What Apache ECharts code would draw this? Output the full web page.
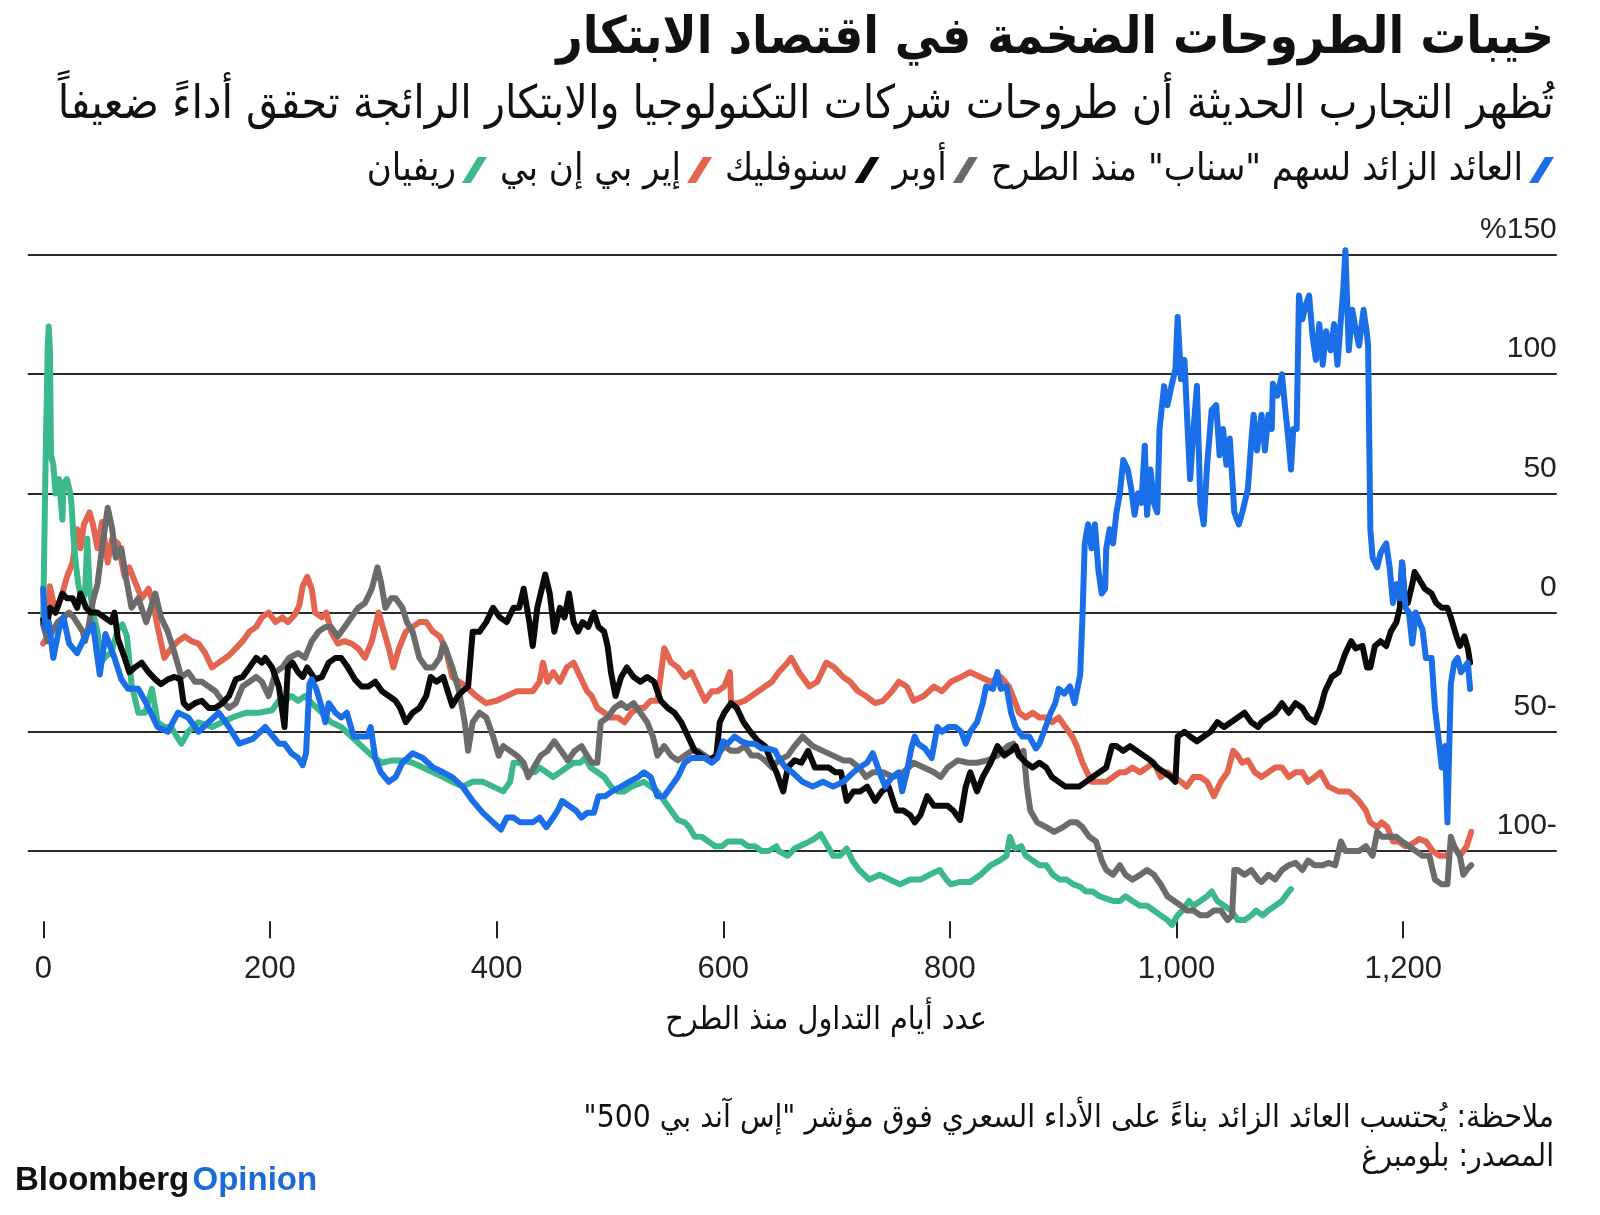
<!DOCTYPE html>
<html><head><meta charset="utf-8">
<script src="https://cdn.jsdelivr.net/npm/echarts@6/dist/echarts.min.js"></script>
<style>html,body{margin:0;padding:0;background:#fff}#c{width:1600px;height:1215px}</style>
</head><body><div id="c"></div>
<script>
// ---------- DATA ----------
const seriesNames = ['العائد الزائد لسهم "سناب" منذ الطرح', 'أوبر', 'سنوفليك', 'إير بي إن بي', 'ريفيان'];
const seriesColors = ['#1a6fe8', '#6b6b6b', '#0a0a0a', '#e3654f', '#3cb988'];
const xTicks = [0, 200, 400, 600, 800, 1000, 1200];
const yTicks = [150, 100, 50, 0, -50, -100];
const yTickLabels = ['%150', '100', '50', '0', '50-', '100-'];

const snapData = [[0,10],[2,-7],[5,-4],[9,-19],[14,-7],[18,-2],[23,-13],[30,-17],[36,-11],[44,-5],[50,-26],[55,-9],[63,-19],[69,-28],[75,-32],[84,-32],[91,-38],[101,-48],[110,-50],[119,-42],[128,-44],[137,-50],[146,-46],[155,-42],[164,-48],[173,-55],[185,-53],[196,-48],[208,-55],[213,-55],[219,-59],[225,-61],[229,-64],[232,-59],[235,-30],[237,-28],[241,-32],[246,-40],[249,-46],[252,-38],[258,-42],[263,-44],[268,-42],[274,-52],[280,-52],[286,-52],[289,-48],[293,-61],[298,-67],[305,-71],[311,-69],[317,-63],[326,-59],[335,-61],[344,-65],[353,-67],[361,-69],[370,-73],[379,-79],[388,-84],[397,-88],[404,-91],[409,-86],[415,-86],[421,-88],[426,-88],[432,-88],[438,-86],[444,-90],[450,-86],[454,-83],[458,-79],[464,-81],[470,-83],[475,-86],[480,-84],[486,-84],[490,-77],[496,-77],[502,-75],[510,-73],[517,-71],[525,-69],[530,-67],[536,-69],[542,-77],[548,-77],[554,-73],[560,-69],[566,-63],[572,-61],[578,-61],[584,-61],[590,-63],[595,-61],[600,-54],[604,-55],[610,-52],[616,-54],[622,-55],[628,-55],[634,-57],[640,-57],[646,-58],[649,-61],[655,-65],[661,-67],[670,-71],[679,-73],[688,-71],[697,-73],[706,-71],[715,-67],[720,-65],[727,-63],[732,-59],[738,-67],[743,-73],[749,-69],[755,-67],[758,-75],[762,-67],[766,-57],[769,-52],[772,-55],[778,-57],[784,-61],[789,-48],[793,-50],[799,-48],[805,-48],[810,-50],[814,-55],[818,-50],[824,-46],[829,-38],[832,-31],[838,-32],[842,-25],[845,-32],[850,-31],[854,-42],[858,-48],[864,-52],[870,-52],[876,-57],[879,-55],[883,-50],[889,-42],[893,-38],[896,-32],[901,-34],[906,-31],[910,-38],[915,-26],[917,-2],[919,29],[922,37],[925,27],[928,37],[931,18],[934,8],[937,10],[938,27],[941,35],[944,29],[947,42],[950,50],[953,64],[957,60],[960,52],[963,41],[966,50],[969,46],[972,70],[974,41],[977,60],[980,46],[983,42],[985,77],[989,95],[992,87],[996,96],[999,102],[1001,124],[1004,98],[1007,106],[1010,75],[1012,56],[1015,77],[1018,95],[1021,46],[1024,37],[1027,62],[1031,85],[1035,87],[1038,66],[1041,77],[1044,62],[1047,73],[1051,42],[1055,37],[1058,42],[1063,52],[1066,72],[1068,83],[1071,68],[1075,83],[1078,68],[1081,83],[1084,77],[1085,96],[1089,91],[1093,100],[1096,85],[1099,71],[1101,60],[1103,77],[1106,77],[1108,133],[1111,123],[1114,129],[1117,133],[1120,116],[1123,106],[1126,121],[1129,104],[1132,118],[1136,110],[1139,121],[1142,104],[1145,123],[1147,135],[1149,152],[1152,110],[1155,127],[1158,119],[1161,112],[1165,127],[1168,117],[1169,112],[1171,35],[1173,23],[1177,19],[1180,25],[1185,29],[1188,19],[1191,4],[1194,12],[1197,6],[1199,21],[1202,2],[1205,0],[1208,-13],[1211,0],[1214,-4],[1217,-7],[1220,-19],[1225,-19],[1228,-40],[1231,-52],[1234,-65],[1237,-56],[1239,-88],[1242,-30],[1245,-21],[1248,-19],[1251,-25],[1254,-23],[1257,-21],[1259,-32]];

const uberData = [[0,-5],[4,-12],[8,-8],[13,-4],[18,-2],[23,0],[27,-2],[31,-5],[35,-8],[37,-12],[40,-6],[44,5],[48,12],[52,27],[57,44],[61,35],[64,23],[69,27],[73,15],[78,2],[84,6],[91,-4],[99,8],[104,-2],[110,-8],[116,-17],[122,-27],[128,-25],[134,-29],[140,-29],[146,-31],[152,-33],[158,-37],[164,-40],[170,-38],[176,-31],[182,-29],[188,-27],[193,-29],[199,-35],[205,-25],[211,-23],[217,-19],[225,-17],[231,-19],[237,-12],[243,-8],[249,-6],[254,-6],[260,-10],[266,-6],[272,-2],[278,2],[284,4],[290,10],[295,19],[298,13],[302,2],[307,6],[311,6],[317,2],[321,-4],[326,-8],[332,-19],[338,-23],[344,-23],[350,-19],[353,-13],[355,-15],[361,-23],[367,-33],[372,-46],[375,-58],[379,-46],[385,-42],[391,-44],[397,-52],[402,-60],[406,-56],[412,-58],[418,-60],[424,-63],[428,-69],[433,-65],[439,-60],[445,-58],[451,-54],[457,-58],[463,-62],[469,-58],[475,-56],[480,-60],[484,-63],[489,-63],[492,-46],[498,-44],[504,-40],[510,-38],[515,-40],[521,-38],[527,-42],[533,-46],[538,-52],[542,-60],[548,-56],[554,-60],[560,-62],[566,-60],[572,-58],[578,-58],[584,-60],[590,-62],[595,-60],[601,-56],[607,-58],[613,-58],[619,-56],[625,-60],[631,-60],[637,-62],[643,-65],[649,-62],[657,-60],[663,-56],[670,-52],[679,-56],[688,-58],[697,-60],[706,-62],[712,-62],[720,-65],[726,-69],[732,-67],[741,-67],[750,-69],[759,-67],[768,-63],[777,-65],[786,-67],[792,-69],[798,-65],[807,-62],[816,-63],[824,-63],[833,-62],[842,-60],[851,-56],[856,-55],[861,-60],[865,-58],[868,-73],[871,-83],[877,-88],[885,-90],[892,-92],[900,-90],[906,-88],[912,-88],[917,-90],[923,-94],[929,-96],[934,-104],[938,-108],[944,-110],[950,-106],[955,-110],[961,-112],[968,-110],[974,-108],[980,-110],[986,-114],[992,-119],[998,-121],[1004,-123],[1009,-125],[1015,-125],[1021,-127],[1027,-127],[1033,-125],[1039,-125],[1045,-129],[1049,-127],[1051,-108],[1054,-108],[1060,-110],[1066,-108],[1072,-112],[1075,-113],[1081,-110],[1087,-112],[1093,-108],[1099,-106],[1105,-105],[1111,-108],[1116,-104],[1122,-106],[1129,-106],[1134,-105],[1140,-106],[1145,-96],[1149,-100],[1155,-100],[1161,-100],[1167,-98],[1173,-102],[1177,-92],[1181,-94],[1188,-94],[1194,-94],[1199,-96],[1205,-98],[1211,-100],[1217,-102],[1223,-102],[1228,-112],[1234,-114],[1239,-114],[1242,-94],[1245,-98],[1250,-102],[1253,-110],[1256,-108],[1260,-106]];

const snowflakeData = [[0,-3],[3,-7],[6,2],[11,0],[17,8],[21,6],[26,6],[30,2],[33,8],[38,2],[42,0],[48,0],[54,-2],[60,-4],[63,0],[66,-11],[72,-19],[76,-25],[81,-23],[87,-21],[93,-25],[99,-28],[104,-30],[110,-28],[116,-27],[121,-28],[124,-38],[128,-40],[134,-38],[140,-37],[146,-40],[152,-40],[158,-38],[164,-35],[170,-28],[176,-27],[182,-23],[188,-19],[193,-21],[196,-19],[202,-23],[208,-31],[213,-48],[216,-23],[220,-21],[225,-25],[229,-27],[233,-23],[240,-28],[246,-27],[252,-21],[258,-19],[263,-19],[269,-23],[275,-28],[281,-31],[287,-31],[293,-29],[299,-33],[305,-35],[311,-37],[315,-40],[320,-46],[326,-42],[332,-40],[338,-35],[342,-27],[347,-29],[353,-27],[357,-33],[361,-39],[366,-35],[370,-33],[375,-31],[379,-8],[385,-8],[391,-4],[397,2],[403,-2],[409,-4],[415,2],[420,2],[424,10],[429,-4],[432,-14],[436,2],[439,8],[443,16],[447,8],[451,-8],[456,2],[460,-2],[464,8],[468,-4],[472,-8],[476,-4],[481,-6],[486,0],[490,-6],[495,-8],[498,-14],[501,-25],[505,-35],[510,-27],[515,-23],[521,-27],[527,-29],[533,-27],[539,-29],[545,-37],[551,-40],[557,-42],[563,-46],[569,-52],[575,-58],[581,-60],[587,-62],[594,-60],[597,-46],[601,-42],[607,-38],[612,-40],[618,-46],[624,-50],[631,-54],[637,-56],[643,-63],[647,-67],[653,-75],[657,-65],[663,-62],[669,-63],[675,-58],[681,-65],[687,-65],[693,-65],[699,-67],[704,-67],[709,-79],[715,-75],[721,-75],[727,-73],[734,-79],[740,-75],[746,-73],[750,-79],[753,-83],[759,-83],[765,-85],[769,-88],[774,-85],[780,-77],[786,-81],[792,-81],[798,-81],[803,-83],[809,-87],[814,-73],[818,-67],[824,-75],[829,-69],[836,-63],[842,-56],[848,-60],[854,-58],[858,-56],[861,-60],[867,-63],[873,-65],[879,-63],[885,-65],[890,-69],[896,-71],[902,-73],[908,-73],[914,-73],[920,-71],[926,-69],[932,-67],[938,-65],[943,-56],[947,-56],[953,-58],[959,-56],[965,-58],[971,-60],[977,-62],[983,-65],[989,-67],[995,-69],[999,-71],[1001,-52],[1007,-50],[1012,-52],[1018,-54],[1024,-52],[1030,-50],[1036,-46],[1042,-48],[1048,-46],[1054,-44],[1060,-42],[1066,-46],[1072,-48],[1075,-46],[1081,-44],[1087,-42],[1093,-38],[1099,-42],[1105,-38],[1111,-40],[1116,-44],[1122,-46],[1127,-40],[1131,-33],[1137,-27],[1143,-25],[1149,-17],[1154,-12],[1158,-15],[1164,-14],[1168,-23],[1171,-23],[1175,-14],[1180,-12],[1185,-14],[1189,-8],[1194,-4],[1197,2],[1199,21],[1201,8],[1204,4],[1208,12],[1210,17],[1214,14],[1219,10],[1225,8],[1229,4],[1234,2],[1239,2],[1242,-2],[1247,-10],[1250,-14],[1254,-10],[1257,-15],[1259,-21]];

const airbnbData = [[0,-13],[3,-11],[6,11],[11,0],[17,8],[21,15],[26,21],[30,35],[33,27],[36,37],[41,42],[44,37],[48,27],[52,38],[57,21],[61,31],[66,29],[72,15],[76,19],[81,13],[87,6],[93,10],[97,4],[101,-6],[107,-19],[113,-15],[119,-12],[125,-10],[131,-12],[137,-13],[143,-17],[149,-23],[155,-21],[164,-18],[170,-15],[176,-12],[182,-8],[188,-6],[193,-2],[199,0],[205,-4],[211,-2],[216,-4],[222,-1],[226,3],[229,11],[233,15],[237,10],[240,0],[246,-2],[250,0],[254,-8],[260,-13],[266,-12],[272,-13],[278,-15],[284,-19],[290,-12],[296,0],[302,-10],[305,-15],[309,-23],[314,-15],[320,-8],[326,-6],[332,-4],[338,-4],[344,-8],[350,-10],[355,-15],[361,-27],[367,-29],[373,-31],[382,-35],[391,-38],[400,-37],[409,-35],[418,-33],[427,-33],[432,-33],[438,-29],[441,-21],[445,-29],[450,-25],[456,-29],[462,-23],[468,-21],[474,-27],[480,-33],[484,-35],[489,-40],[495,-42],[501,-44],[507,-44],[513,-46],[519,-42],[525,-40],[530,-40],[536,-37],[542,-37],[548,-15],[554,-21],[560,-23],[566,-27],[572,-25],[578,-31],[584,-37],[590,-33],[595,-33],[601,-31],[606,-25],[607,-38],[613,-38],[619,-37],[625,-35],[631,-33],[637,-31],[643,-29],[649,-25],[655,-22],[660,-19],[667,-25],[676,-31],[683,-29],[691,-21],[698,-23],[706,-27],[712,-29],[719,-33],[726,-35],[734,-38],[741,-37],[749,-33],[755,-29],[762,-31],[768,-37],[777,-35],[786,-31],[793,-33],[801,-29],[810,-27],[818,-25],[827,-27],[836,-29],[845,-27],[852,-31],[858,-38],[861,-42],[867,-44],[873,-42],[879,-44],[885,-44],[890,-46],[896,-44],[902,-48],[908,-52],[912,-56],[917,-63],[921,-67],[925,-71],[931,-71],[938,-71],[944,-69],[950,-67],[955,-67],[961,-65],[968,-67],[974,-65],[980,-63],[986,-69],[992,-67],[998,-69],[1004,-71],[1009,-73],[1015,-69],[1021,-69],[1027,-71],[1033,-77],[1039,-71],[1045,-67],[1050,-58],[1054,-60],[1058,-63],[1063,-62],[1069,-67],[1075,-69],[1081,-67],[1087,-65],[1093,-65],[1099,-69],[1105,-67],[1111,-67],[1116,-71],[1122,-69],[1127,-67],[1134,-73],[1143,-75],[1152,-75],[1161,-79],[1167,-83],[1171,-88],[1177,-90],[1181,-88],[1186,-90],[1191,-96],[1196,-96],[1202,-98],[1208,-97],[1214,-95],[1220,-96],[1226,-100],[1232,-102],[1238,-102],[1244,-98],[1250,-102],[1256,-98],[1260,-92]];

const rivianData = [[0,-5],[2,58],[4,110],[5,120],[6,110],[7,66],[9,62],[11,50],[14,56],[17,39],[18,54],[21,56],[24,50],[25,46],[27,30],[29,20],[31,12],[34,5],[37,8],[39,31],[41,10],[44,0],[48,-8],[51,-21],[56,-18],[60,-17],[66,-7],[70,-5],[74,-10],[78,-30],[84,-42],[90,-42],[96,-32],[101,-46],[107,-48],[113,-48],[118,-52],[122,-55],[128,-50],[137,-46],[149,-48],[158,-46],[167,-44],[179,-42],[190,-42],[202,-41],[208,-37],[213,-37],[219,-35],[225,-37],[231,-35],[237,-38],[246,-42],[254,-46],[263,-48],[272,-52],[281,-56],[290,-60],[299,-63],[308,-62],[317,-62],[326,-63],[335,-65],[344,-67],[353,-69],[361,-71],[370,-73],[379,-71],[388,-71],[397,-73],[406,-75],[412,-71],[415,-63],[421,-63],[428,-67],[434,-67],[438,-65],[444,-67],[450,-69],[456,-67],[462,-65],[468,-63],[474,-63],[478,-61],[483,-65],[489,-67],[495,-69],[501,-73],[507,-75],[513,-75],[519,-73],[525,-72],[530,-71],[536,-73],[542,-75],[548,-79],[554,-83],[560,-87],[566,-88],[570,-90],[575,-94],[581,-94],[587,-96],[593,-98],[599,-98],[604,-96],[610,-96],[616,-96],[622,-98],[628,-98],[634,-100],[640,-100],[647,-98],[649,-100],[657,-102],[663,-99],[672,-97],[680,-95],[686,-93],[691,-97],[697,-102],[703,-102],[709,-99],[714,-104],[720,-108],[729,-112],[738,-110],[747,-112],[756,-114],[765,-112],[774,-112],[782,-110],[791,-108],[797,-112],[801,-114],[809,-113],[818,-113],[827,-110],[836,-106],[844,-104],[850,-102],[853,-94],[856,-98],[858,-99],[863,-98],[867,-102],[873,-104],[879,-106],[885,-106],[891,-110],[897,-112],[903,-112],[909,-114],[915,-115],[920,-117],[926,-117],[932,-119],[938,-120],[944,-121],[950,-121],[955,-119],[961,-121],[968,-123],[974,-123],[980,-125],[986,-127],[992,-129],[996,-131],[1001,-127],[1005,-125],[1011,-121],[1015,-123],[1021,-121],[1027,-119],[1031,-117],[1036,-121],[1042,-123],[1048,-125],[1054,-129],[1060,-129],[1066,-127],[1070,-125],[1076,-127],[1081,-125],[1087,-123],[1093,-121],[1099,-117],[1101,-116]];

const titleText = 'خيبات الطروحات الضخمة في اقتصاد الابتكار';
const subtitleText = 'تُظهر التجارب الحديثة أن طروحات شركات التكنولوجيا والابتكار الرائجة تحقق أداءً ضعيفاً';
const xAxisTitle = 'عدد أيام التداول منذ الطرح';
const noteText = 'ملاحظة: يُحتسب العائد الزائد بناءً على الأداء السعري فوق مؤشر "إس آند بي 500"\u200F';
const sourceText = 'المصدر: بلومبرغ';

// ---------- CHART ----------
const ARB = '"DejaVu Sans Condensed", "DejaVu Sans", sans-serif';
const NUM = '"Liberation Sans", Arial, sans-serif';
const allData = [snapData, uberData, snowflakeData, airbnbData, rivianData];
const drawOrder = [3, 4, 1, 2, 0]; // airbnb, rivian, uber, snowflake, snap on top

const chart = echarts.init(document.getElementById('c'), null, {renderer: 'canvas'});
const fmtNum = v => String(v).replace(/\B(?=(\d{3})+(?!\d))/g, ',');

// text measuring for the right-to-left legend
const mctx = document.createElement('canvas').getContext('2d');
function textW(t, font) { mctx.font = font; return mctx.measureText(t).width; }

const legendFont = '38px ' + ARB;
const legendY = 170;
const legendGraphics = [];
let lx = 1554;
[0, 1, 2, 3, 4].forEach(i => {
  legendGraphics.push({type: 'polygon',
    shape: {points: [[lx - 9, legendY - 13], [lx, legendY - 13], [lx - 16, legendY + 13], [lx - 25, legendY + 13]]},
    style: {fill: seriesColors[i]}});
  const tx = lx - 25 - 6;
  legendGraphics.push({type: 'text', x: tx, y: legendY,
    style: {text: seriesNames[i], font: legendFont, fill: '#111', align: 'right', verticalAlign: 'middle'}});
  lx = tx - textW(seriesNames[i], legendFont) - 13;
});

const series = drawOrder.map(i => ({
  name: seriesNames[i],
  type: 'line',
  xAxisIndex: 0, yAxisIndex: 0,
  data: allData[i],
  showSymbol: false,
  symbol: 'none',
  clip: false,
  color: seriesColors[i],
  lineStyle: {width: 6, color: seriesColors[i], join: 'round', cap: 'round'},
  emphasis: {disabled: true},
  z: 3
}));

const option = {
  animation: false,
  backgroundColor: '#ffffff',
  grid: [
    {left: 27.8, right: 43.2, top: 255, bottom: 293.7},
    {left: 27.8, right: 43.2, top: 255, bottom: 364},
    {left: 43.3, right: 196.8, top: 255, bottom: 293.7}
  ],
  xAxis: [
    {type: 'value', gridIndex: 0, min: -13.5, max: 1335.5, show: false, splitLine: {show: false}},
    {type: 'value', gridIndex: 1, min: 0, max: 1, show: false, splitLine: {show: false}},
    {type: 'value', gridIndex: 2, min: 0, max: 1200, interval: 200,
     axisLine: {show: false},
     axisTick: {show: true, length: 17, lineStyle: {color: '#222', width: 2}},
     axisLabel: {fontFamily: NUM, fontSize: 31, color: '#222', margin: 33,
       formatter: v => xTicks.includes(v) ? fmtNum(v) : ''},
     splitLine: {show: false}}
  ],
  yAxis: [
    {type: 'value', gridIndex: 0, min: -129.5, max: 150, show: false, splitLine: {show: false}},
    {type: 'value', gridIndex: 1, position: 'right', min: -100, max: 150, interval: 50,
     axisLine: {show: false}, axisTick: {show: false},
     splitLine: {show: true, lineStyle: {color: '#2b2b2b', width: 2}},
     axisLabel: {inside: true, margin: 0, fontFamily: NUM, fontSize: 30, color: '#222',
       verticalAlign: 'bottom', padding: [0, 0, 10, 0],
       formatter: v => { const k = yTicks.indexOf(v); return k >= 0 ? yTickLabels[k] : ''; }}},
    {type: 'value', gridIndex: 2, min: 0, max: 1, show: false, splitLine: {show: false}}
  ],
  series: series,
  graphic: [
    {type: 'text', x: 1554, y: 40, style: {text: titleText, font: 'bold 51px ' + ARB, fill: '#111', align: 'right', verticalAlign: 'middle'}},
    {type: 'text', x: 1554, y: 106, style: {text: subtitleText, font: '46px ' + ARB, fill: '#111', align: 'right', verticalAlign: 'middle'}},
    {type: 'text', x: 826, y: 1021, style: {text: xAxisTitle, font: '32px ' + ARB, fill: '#111', align: 'center', verticalAlign: 'middle'}},
    {type: 'text', x: 1554, y: 1119, style: {text: noteText, font: '31.5px ' + ARB, fill: '#111', align: 'right', verticalAlign: 'middle'}},
    {type: 'text', x: 1554, y: 1158, style: {text: sourceText, font: '31.5px ' + ARB, fill: '#111', align: 'right', verticalAlign: 'middle'}},
    {type: 'text', x: 15, y: 1181, style: {
      text: '{a|Bloomberg} {b|Opinion}', verticalAlign: 'middle', align: 'left',
      rich: {
        a: {fontFamily: NUM, fontWeight: 'bold', fontSize: 33, fill: '#111', color: '#111'},
        b: {fontFamily: NUM, fontWeight: 'bold', fontSize: 33, fill: '#1a6ad8', color: '#1a6ad8'}
      }}}
  ].concat(legendGraphics)
};
chart.setOption(option);
</script>
</body></html>
